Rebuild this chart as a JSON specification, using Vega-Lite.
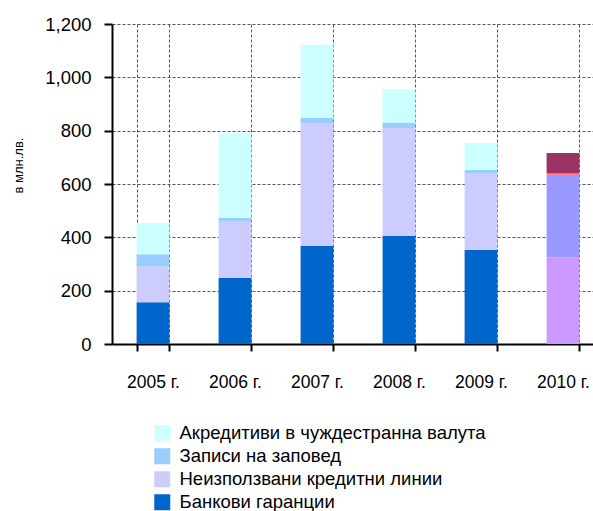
{
  "$schema": "https://vega.github.io/schema/vega-lite/v6.json",
  "autosize": "none",
  "width": 481,
  "height": 320,
  "padding": {"left": 112, "top": 24, "right": 0, "bottom": 167},
  "background": "white",
  "config": {
    "view": {"stroke": null},
    "font": "Liberation Sans, Arial, sans-serif"
  },
  "data": {
    "values": [
      {"year": "2005 г.", "series": "Банкови гаранции", "ord": 1, "value": 157},
      {"year": "2005 г.", "series": "Неизползвани кредитни линии", "ord": 2, "value": 135},
      {"year": "2005 г.", "series": "Записи на заповед", "ord": 3, "value": 45},
      {"year": "2005 г.", "series": "Акредитиви в чуждестранна валута", "ord": 4, "value": 117},
      {"year": "2006 г.", "series": "Банкови гаранции", "ord": 1, "value": 248},
      {"year": "2006 г.", "series": "Неизползвани кредитни линии", "ord": 2, "value": 210},
      {"year": "2006 г.", "series": "Записи на заповед", "ord": 3, "value": 15},
      {"year": "2006 г.", "series": "Акредитиви в чуждестранна валута", "ord": 4, "value": 317},
      {"year": "2007 г.", "series": "Банкови гаранции", "ord": 1, "value": 368},
      {"year": "2007 г.", "series": "Неизползвани кредитни линии", "ord": 2, "value": 461},
      {"year": "2007 г.", "series": "Записи на заповед", "ord": 3, "value": 19},
      {"year": "2007 г.", "series": "Акредитиви в чуждестранна валута", "ord": 4, "value": 274},
      {"year": "2008 г.", "series": "Банкови гаранции", "ord": 1, "value": 405},
      {"year": "2008 г.", "series": "Неизползвани кредитни линии", "ord": 2, "value": 405},
      {"year": "2008 г.", "series": "Записи на заповед", "ord": 3, "value": 19},
      {"year": "2008 г.", "series": "Акредитиви в чуждестранна валута", "ord": 4, "value": 127},
      {"year": "2009 г.", "series": "Банкови гаранции", "ord": 1, "value": 353},
      {"year": "2009 г.", "series": "Неизползвани кредитни линии", "ord": 2, "value": 285},
      {"year": "2009 г.", "series": "Записи на заповед", "ord": 3, "value": 15},
      {"year": "2009 г.", "series": "Акредитиви в чуждестранна валута", "ord": 4, "value": 101},
      {"year": "2010 г.", "series": "Банкови гаранции (2010)", "ord": 1, "value": 324},
      {"year": "2010 г.", "series": "Неизползвани кредитни линии (2010)", "ord": 2, "value": 306},
      {"year": "2010 г.", "series": "Записи на заповед (2010)", "ord": 3, "value": 9},
      {"year": "2010 г.", "series": "Акредитиви в чуждестранна валута (2010)", "ord": 4, "value": 77}
    ]
  },
  "mark": {"type": "bar"},
  "encoding": {
    "x": {
      "field": "year",
      "type": "nominal",
      "sort": null,
      "scale": {"range": [0, 492], "paddingInner": 0.6, "paddingOuter": 0.3},
      "axis": {
        "title": null,
        "labelAngle": 0,
        "labelFontSize": 17.5,
        "labelColor": "black",
        "labelPadding": 22,
        "tickBand": "extent",
        "tickSize": 7,
        "tickColor": "black",
        "tickWidth": 2,
        "domainColor": "black",
        "domainWidth": 2,
        "grid": true,
        "gridDash": [3, 2],
        "gridColor": "#555555",
        "gridOpacity": 1,
        "gridWidth": 1,
        "zindex": 0
      }
    },
    "y": {
      "field": "value",
      "type": "quantitative",
      "stack": "zero",
      "scale": {"domain": [0, 1200], "nice": false},
      "axis": {
        "title": "в млн.лв.",
        "titleFontSize": 13,
        "titleFontWeight": "normal",
        "titleColor": "black",
        "titleX": -94,
        "titleY": 141,
        "titleAngle": -90,
        "titleBaseline": "middle",
        "titleAlign": "center",
        "values": [0, 200, 400, 600, 800, 1000, 1200],
        "format": ",.0f",
        "labelFontSize": 18.5,
        "labelColor": "black",
        "labelPadding": 13,
        "tickSize": 8,
        "tickColor": "black",
        "tickWidth": 2,
        "domainColor": "black",
        "domainWidth": 2,
        "grid": true,
        "gridDash": [3, 2],
        "gridColor": "#555555",
        "gridOpacity": 1,
        "gridWidth": 1,
        "zindex": 0
      }
    },
    "color": {
      "field": "series",
      "type": "nominal",
      "scale": {
        "domain": [
          "Акредитиви в чуждестранна валута",
          "Записи на заповед",
          "Неизползвани кредитни линии",
          "Банкови гаранции",
          "Банкови гаранции (2010)",
          "Неизползвани кредитни линии (2010)",
          "Записи на заповед (2010)",
          "Акредитиви в чуждестранна валута (2010)"
        ],
        "range": ["#CCFFFF", "#99CCFF", "#CCCCFF", "#0066CC", "#CC99FF", "#9999FF", "#FF7C80", "#993366"]
      },
      "legend": {
        "title": null,
        "orient": "none",
        "legendX": 41,
        "legendY": 400,
        "values": [
          "Акредитиви в чуждестранна валута",
          "Записи на заповед",
          "Неизползвани кредитни линии",
          "Банкови гаранции"
        ],
        "symbolType": "square",
        "symbolSize": 256,
        "symbolStrokeWidth": 0,
        "symbolOpacity": 1,
        "labelFontSize": 18.5,
        "labelColor": "black",
        "labelLimit": 400,
        "labelOffset": 8,
        "rowPadding": 4
      }
    },
    "order": {"field": "ord", "type": "quantitative"}
  }
}
